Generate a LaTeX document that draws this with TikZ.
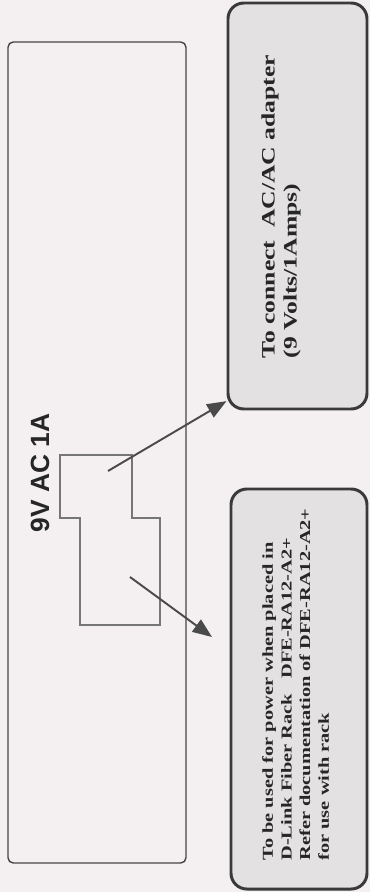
\documentclass[tikz,border=0pt]{standalone}
\usepackage{fontspec}
\setmainfont{Liberation Serif}
\setsansfont{Liberation Sans}
\usepackage{xcolor}
\usepackage{tikz}
\usetikzlibrary{arrows.meta,positioning,calc,fit}
\definecolor{paper}{HTML}{F4F0F1}
\definecolor{notefill}{HTML}{E3E1E2}
\definecolor{edgegray}{HTML}{3A3A3A}
\definecolor{panelgray}{HTML}{454545}
\definecolor{inkgray}{HTML}{262626}
\definecolor{arrowgray}{HTML}{4A4A4A}
\definecolor{plugray}{HTML}{767676}
\tikzset{
  panelbox/.style={draw=panelgray, line width=0.8pt, rounded corners=3pt, inner sep=0pt},
  notebox/.style={draw=edgegray, fill=notefill, line width=1.7pt, rounded corners=9pt, inner sep=0pt},
  notetext/.style={text=inkgray, align=left, inner sep=0pt, rotate=90, xscale=1.35, transform shape, anchor=north west},
  plugline/.style={draw=plugray, line width=0.7pt},
  powerarrow/.style={-{Triangle[length=11pt,width=8.5pt]}, draw=arrowgray, line width=1.1pt},
  ratinglabel/.style={font=\sffamily\bfseries\fontsize{15}{18}\selectfont, text=inkgray, rotate=90, inner sep=0pt}
}
\begin{document}
\begin{tikzpicture}[x=0.02cm, y=-0.02cm]
  \fill[paper] (0,0) rectangle (370,892);
  \useasboundingbox (0,0) rectangle (370,892);

  \node[panelbox, fit={(8,42) (186,863)}] (panel) {};
  \node[notebox, fit={(228,3) (367,409)}] (adapterbox) {};
  \node[notebox, fit={(231,489) (367,889)}] (rackbox) {};

  \draw[plugline] (60,455) -| (132,518) -| (160,625) -| (80,518) -| (60,455) -- cycle;
  \node[ratinglabel] (rating) at (40,473) {9V AC 1A};

  \node[notetext, font=\bfseries\fontsize{10.8}{12.6}\selectfont] (adaptertext) at (261,359)
    {To connect\ \ AC/AC adapter\\(9 Volts/1Amps)};
  \node[notetext, font=\bfseries\fontsize{8.6}{10.6}\selectfont] (racktext) at (262,861)
    {To be used for power when placed in\\D-Link Fiber Rack\ \ \ DFE-RA12-A2+\\Refer documentation of DFE-RA12-A2+\\for use with rack};

  \coordinate (plugtop) at (108,471);
  \coordinate (plugbottom) at (130,577);
  \coordinate (rackpoint) at (212,637);
  \draw[powerarrow] (plugtop) -- (adapterbox.250);
  \draw[powerarrow] (plugbottom) -- (rackpoint);
\end{tikzpicture}
\end{document}
